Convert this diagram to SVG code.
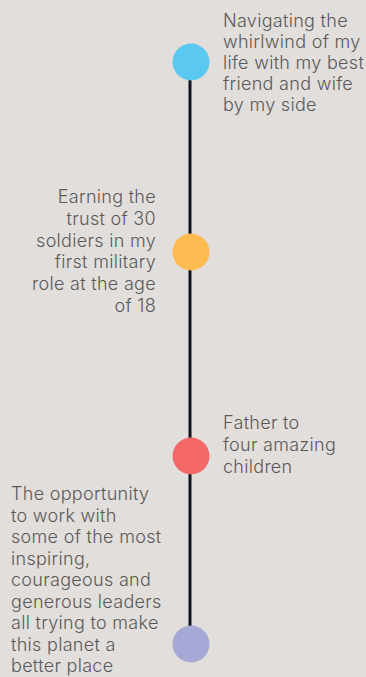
<svg xmlns="http://www.w3.org/2000/svg" width="366" height="677" viewBox="0 0 366 677">
<style>
.t{font-family:Inter,"Liberation Sans",sans-serif;font-size:18px;fill:#5a5a5a;font-weight:300;letter-spacing:0.3px}
.r{text-anchor:end}
</style>
<rect width="366" height="677" fill="#e2dedb"/>
<g id="connectors">
<line x1="190" y1="62" x2="190" y2="644" stroke="#0f1220" stroke-width="3"/>
</g>
<g id="n1">
<circle cx="191" cy="62" r="18.5" fill="#5bc8f2"/>
<text class="t"><tspan x="223" y="27">Navigating the</tspan><tspan x="223" y="48">whirlwind of my</tspan><tspan x="223" y="69">life with my best</tspan><tspan x="223" y="90">friend and wife</tspan><tspan x="223" y="111">by my side</tspan></text>
</g>
<g id="n2">
<circle cx="191" cy="252" r="18.5" fill="#fdbb50"/>
<text class="t r"><tspan x="156" y="203">Earning the</tspan><tspan x="156" y="225">trust of 30</tspan><tspan x="156" y="247">soldiers in my</tspan><tspan x="156" y="268">first military</tspan><tspan x="156" y="290">role at the age</tspan><tspan x="156" y="312">of 18</tspan></text>
</g>
<g id="n3">
<circle cx="191" cy="456" r="18.5" fill="#f56868"/>
<text class="t"><tspan x="223" y="429">Father to</tspan><tspan x="223" y="451">four amazing</tspan><tspan x="223" y="473">children</tspan></text>
</g>
<g id="n4">
<circle cx="191" cy="644" r="18.5" fill="#a6a8d6"/>
<text class="t"><tspan x="11" y="500">The opportunity</tspan><tspan x="11" y="521.5">to work with</tspan><tspan x="11" y="543">some of the most</tspan><tspan x="11" y="564.5">inspiring,</tspan><tspan x="11" y="586">courageous and</tspan><tspan x="11" y="607.5">generous leaders</tspan><tspan x="11" y="629">all trying to make</tspan><tspan x="11" y="650.5">this planet a</tspan><tspan x="11" y="672">better place</tspan></text>
</g>
</svg>
